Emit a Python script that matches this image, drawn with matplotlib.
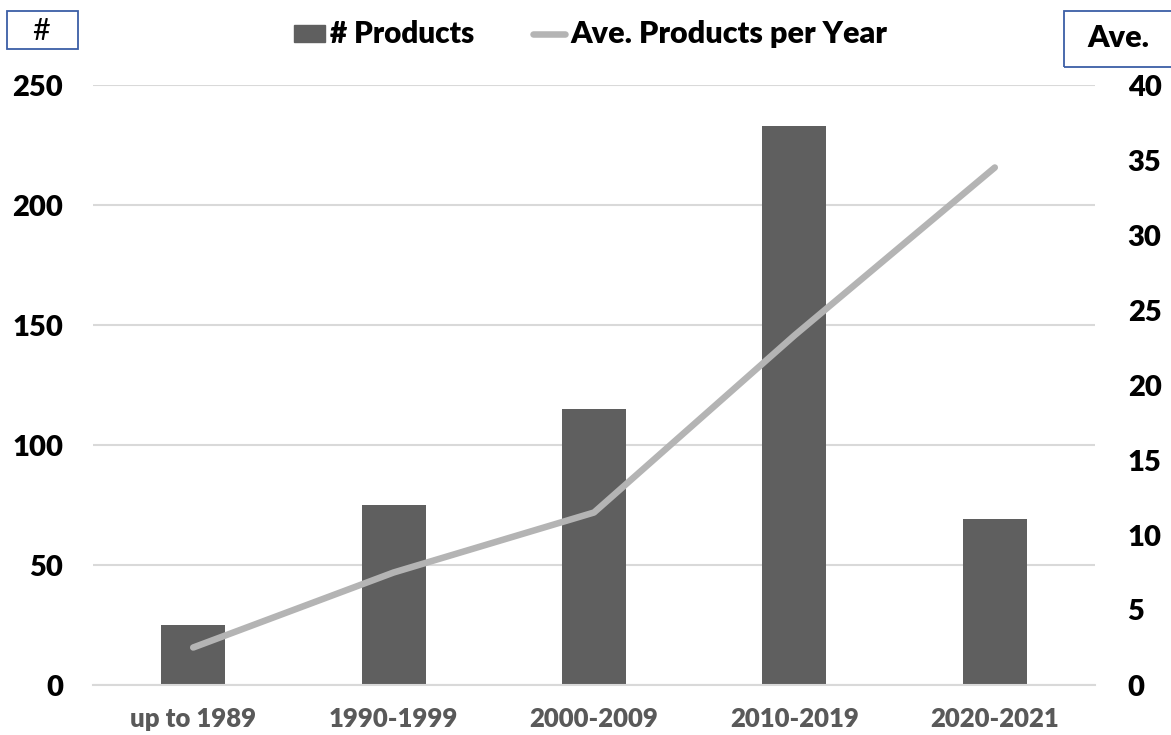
import numpy as np
import matplotlib.pyplot as plt
from matplotlib.patches import Rectangle
from matplotlib.lines import Line2D
from matplotlib.font_manager import FontProperties

periods = ['up to 1989', '1990-1999', '2000-2009', '2010-2019', '2020-2021']
num_products = [25, 75, 115, 233, 69]
ave_per_year = [2.5, 7.5, 11.5, 23.3, 34.5]

bar_color = '#5f5f5f'
line_color = '#b4b4b4'
grid_color = '#d9d9d9'
box_color = '#3b5ea6'

W, H = 1171, 735

plt.rcParams['font.family'] = 'Lato'
plt.rcParams['font.weight'] = 800

def bold(size):
    return FontProperties(family='Lato', weight=800, size=size)

fig = plt.figure(figsize=(W / 100, H / 100), dpi=100)
ax = fig.add_axes([93 / W, 1 - 685 / H, 1002 / W, 600 / H])
ax2 = ax.twinx()

x = np.arange(len(periods))
ax.bar(x, num_products, width=0.32, color=bar_color, zorder=2)
ax2.plot(x, ave_per_year, color=line_color, lw=4.7, solid_capstyle='round',
         solid_joinstyle='round', zorder=3)

ax.set_xlim(-0.5, len(periods) - 0.5)
ax.set_ylim(0, 250)
ax2.set_ylim(0, 40)

ax.yaxis.grid(True, color=grid_color, lw=1.5, zorder=0)
ax.set_axisbelow(True)
for a in (ax, ax2):
    for s in a.spines.values():
        s.set_visible(False)
ax.spines['bottom'].set_visible(True)
ax.spines['bottom'].set_color(grid_color)
ax.spines['bottom'].set_linewidth(1.5)

ax.set_xticks(x)
ax.set_xticklabels(periods, color='#595959', fontproperties=bold(18.5))
ax.set_yticks(range(0, 251, 50))
ax.set_yticklabels([str(v) for v in range(0, 251, 50)], fontproperties=bold(21))
ax2.set_yticks(range(0, 41, 5))
ax2.set_yticklabels([str(v) for v in range(0, 41, 5)], fontproperties=bold(21))
ax.tick_params(axis='x', length=0, pad=16)
ax.tick_params(axis='y', length=0, pad=21.5)
ax2.tick_params(axis='y', length=0, pad=23.5)

# legend drawn by hand in figure pixels
fig.patches.append(Rectangle((294 / W, 1 - 42 / H), 31 / W, 17 / H,
                             transform=fig.transFigure, color=bar_color))
fig.text(330 / W, 1 - 34 / H, '# Products', ha='left', va='center',
         fontproperties=bold(21.3))
fig.lines.append(Line2D([533 / W, 565 / W], [1 - 34 / H, 1 - 34 / H],
                        transform=fig.transFigure, color=line_color, lw=4.7,
                        solid_capstyle='round'))
fig.text(570 / W, 1 - 34 / H, 'Ave. Products per Year', ha='left', va='center',
         fontproperties=bold(22))

# axis title boxes
fig.patches.append(Rectangle((7 / W, 1 - 49 / H), 71 / W, 38 / H,
                             transform=fig.transFigure, fill=False,
                             ec=box_color, lw=1.3))
fig.text(41 / W, 1 - 31 / H, '#', ha='center', va='center',
         fontproperties=FontProperties(family='Lato', weight=400, size=22))
fig.patches.append(Rectangle((1064 / W, 1 - 67 / H), 120 / W, 56 / H,
                             transform=fig.transFigure, fill=False,
                             ec=box_color, lw=1.3))
fig.text(1087 / W, 1 - 38 / H, 'Ave.', ha='left', va='center',
         fontproperties=bold(22))

fig.savefig('out.png', dpi=100)
